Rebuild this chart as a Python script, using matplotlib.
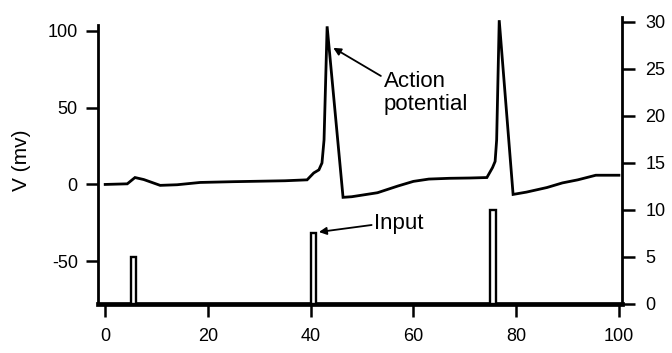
"""Membrane voltage trace with input pulses (twin y axes)."""

import matplotlib
matplotlib.use("Agg")
import matplotlib.pyplot as plt

plt.rcParams.update({
    "font.family": ["Liberation Sans", "DejaVu Sans"],
    "font.size": 13,
    "axes.unicode_minus": False,
})

# membrane voltage, mV (left axis)
t_ms = [0, 4.3, 5.8, 7.5, 10.7, 14, 18.5, 25, 30, 35, 39.3, 40.6, 41.6, 42.2,
        42.6, 43.2, 46.3, 48, 53, 57, 60, 63, 67, 71, 74.3, 75.4, 75.9,
        76.2, 76.7, 79.4, 82, 86, 89, 92, 95.5, 100]
v_mv = [0, 0.4, 4.5, 3.2, -0.6, -0.2, 1.3, 1.8, 2.1, 2.4, 3, 7.5, 9.5, 14,
        29, 103, -8.4, -8, -5.4, -1, 2, 3.5, 4, 4.2, 4.5, 11, 15,
        29, 107, -6.5, -5, -2, 1, 3, 6, 6]

# input pulses (right axis)
pulse_start = [5, 40, 75]
pulse_height = [5, 7.5, 10]
pulse_width = 1.0

fig = plt.figure(figsize=(6.72, 3.53), dpi=100)
ax = fig.add_axes([98 / 672, 49 / 353, 524 / 672, 287 / 353])
ax2 = ax.twinx()

ax.plot(t_ms, v_mv, color="black", lw=2.0, solid_joinstyle="miter", zorder=3)
ax2.bar(pulse_start, pulse_height, width=pulse_width, align="edge",
        facecolor="white", edgecolor="black", linewidth=1.7, zorder=2)

ax.set_xlim(-1.4, 100.6)
ax.set_ylim(-77.9, 109.1)
ax2.set_ylim(0, 30.5)

ax.set_xticks([0, 20, 40, 60, 80, 100])
ax.set_yticks([-50, 0, 50, 100])
ax2.set_yticks([0, 5, 10, 15, 20, 25, 30])
ax.set_ylabel("V (mv)", fontsize=15, labelpad=12)

for a in (ax, ax2):
    a.spines["top"].set_visible(False)
    a.patch.set_visible(False)
ax.spines["right"].set_visible(False)
ax2.spines["left"].set_visible(False)
ax2.spines["bottom"].set_visible(False)
ax.spines["left"].set_linewidth(2.0)
ax.spines["left"].set_bounds(-77.9, 104)
ax.spines["bottom"].set_linewidth(3.4)
ax2.spines["right"].set_linewidth(2.0)

ax.tick_params(axis="y", direction="out", length=9, width=1.8, labelsize=13, pad=5.5)
ax.tick_params(axis="x", direction="out", length=9.5, width=1.8, labelsize=13, pad=8)
ax2.tick_params(axis="y", direction="out", length=9, width=1.8, labelsize=13, pad=8)

ax.annotate("Action\npotential", xy=(44.4, 89), xytext=(54.2, 59.5),
            fontsize=16, ha="left", va="center", linespacing=1.15,
            arrowprops=dict(arrowstyle="-|>", color="black", lw=1.3,
                            shrinkA=0, shrinkB=0, mutation_scale=11,
                            relpos=(0, 0.85)))
ax.annotate("Input", xy=(41.6, -31), xytext=(52.4, -25.5),
            fontsize=16, ha="left", va="center",
            arrowprops=dict(arrowstyle="-|>", color="black", lw=1.3,
                            shrinkA=0, shrinkB=0, mutation_scale=11,
                            relpos=(0, 0.45)))

fig.savefig("out.png", dpi=100)
